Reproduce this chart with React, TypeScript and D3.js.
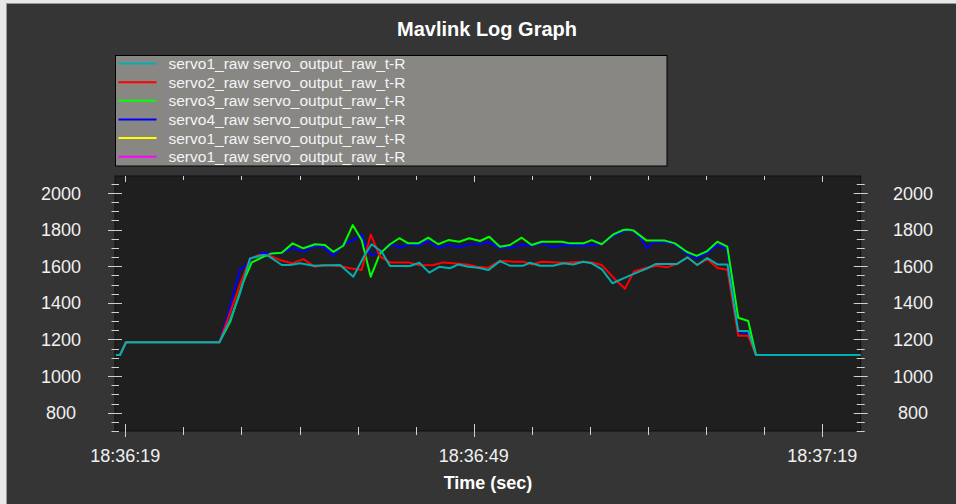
import React from 'react'
import * as d3 from 'd3'

// time in seconds after 18:36:00, value in raw servo units
const servo1Data: [number, number][] = [
  [18.2, 1115], [18.55, 1115], [19.07, 1185], [27.1, 1185], [28.02, 1306], [28.88, 1452],
  [29.74, 1643], [30.88, 1661], [31.32, 1657], [32.47, 1607], [33.18, 1607], [34.04, 1616],
  [35.19, 1603], [37.49, 1607], [38.63, 1543], [39.64, 1665], [40.21, 1720], [41.07, 1679],
  [41.79, 1601], [43.51, 1601], [44.31, 1619], [45.17, 1565], [46.03, 1597], [46.95, 1589],
  [47.67, 1610], [48.53, 1597], [49.39, 1592], [50.25, 1579], [51.25, 1628], [52.11, 1603],
  [53.26, 1603], [53.83, 1619], [54.69, 1603], [55.84, 1603], [56.7, 1616], [57.56, 1610],
  [58.42, 1625], [59.15, 1616], [60.03, 1583], [60.94, 1507], [61.87, 1534], [62.87, 1561],
  [63.88, 1587], [64.64, 1612], [66.46, 1612], [67.39, 1649], [68.23, 1607], [69.09, 1645],
  [69.97, 1610], [70.83, 1610], [71.76, 1246], [72.62, 1246], [73.29, 1115], [82.3, 1115],
]

const servo2Data: [number, number][] = [
  [18.2, 1115], [18.55, 1115], [19.07, 1185], [27.1, 1185], [27.93, 1330], [28.88, 1500],
  [29.74, 1640], [30.45, 1661], [31.32, 1661], [32.32, 1634], [33.33, 1616], [34.33, 1639],
  [35.33, 1597], [36.05, 1607], [37.49, 1601], [38.35, 1589], [39.35, 1579], [40.13, 1774],
  [40.93, 1652], [41.79, 1621], [43.36, 1621], [44.37, 1605], [45.51, 1607], [46.37, 1621],
  [47.24, 1616], [48.39, 1610], [49.25, 1597], [50.25, 1592], [51.25, 1630], [52.4, 1625],
  [53.26, 1625], [53.98, 1610], [54.84, 1625], [56.7, 1619], [58.42, 1625], [59.28, 1619],
  [60.01, 1607], [61.0, 1539], [62.01, 1477], [62.79, 1572], [63.88, 1592], [64.74, 1603],
  [65.6, 1594], [66.46, 1612], [67.39, 1649], [68.23, 1607], [69.09, 1639], [69.97, 1590],
  [70.83, 1581], [71.76, 1220], [72.62, 1220], [73.29, 1115], [82.3, 1115],
]

const servo3Data: [number, number][] = [
  [18.2, 1115], [18.55, 1115], [19.07, 1185], [27.1, 1185], [28.05, 1300], [29.16, 1515],
  [29.89, 1621], [30.88, 1652], [31.61, 1670], [32.47, 1674], [33.41, 1725], [34.33, 1698],
  [35.33, 1720], [36.19, 1716], [36.91, 1679], [37.77, 1712], [38.58, 1825], [39.35, 1743],
  [40.13, 1543], [40.93, 1670], [41.79, 1720], [42.59, 1753], [43.36, 1725], [44.22, 1725],
  [45.08, 1756], [45.94, 1720], [46.81, 1743], [47.75, 1734], [48.61, 1753], [49.53, 1738],
  [50.33, 1761], [51.25, 1707], [52.11, 1716], [53.12, 1756], [53.98, 1716], [54.84, 1734],
  [56.56, 1734], [57.28, 1725], [58.42, 1725], [59.15, 1743], [60.01, 1720], [61.0, 1774],
  [61.87, 1798], [62.16, 1801], [62.73, 1796], [63.88, 1740], [65.45, 1740], [66.31, 1725],
  [67.32, 1679], [68.18, 1657], [69.09, 1683], [69.96, 1734], [70.82, 1707], [71.76, 1319],
  [72.62, 1301], [73.29, 1115], [82.3, 1115],
]

const servo4Data: [number, number][] = [
  [18.2, 1115], [18.55, 1115], [19.07, 1185], [27.1, 1185], [27.87, 1343], [28.88, 1583],
  [29.46, 1607], [29.89, 1643], [30.75, 1672], [31.75, 1670], [32.47, 1674], [33.47, 1701],
  [34.33, 1679], [35.33, 1712], [36.05, 1707], [36.91, 1657], [37.77, 1720], [38.63, 1743],
  [39.35, 1774], [39.78, 1698], [40.21, 1661], [41.07, 1679], [41.93, 1720], [42.65, 1701],
  [43.51, 1720], [44.22, 1712], [45.08, 1738], [45.94, 1701], [46.81, 1716], [47.81, 1705],
  [48.67, 1720], [49.53, 1720], [50.25, 1731], [51.25, 1701], [52.11, 1701], [53.12, 1716],
  [53.98, 1712], [54.84, 1725], [55.84, 1703], [56.7, 1716], [58.42, 1712], [59.15, 1716],
  [60.01, 1720], [61.0, 1767], [61.87, 1790], [62.16, 1798], [62.73, 1792], [63.3, 1761],
  [63.88, 1698], [64.45, 1731], [65.45, 1734], [66.31, 1720], [67.32, 1670], [68.18, 1643],
  [69.04, 1670], [69.96, 1716], [70.82, 1694], [71.76, 1239], [72.62, 1239], [73.29, 1115],
  [82.3, 1115],
]

const seriesNames = [
  'servo1_raw servo_output_raw_t-R',
  'servo2_raw servo_output_raw_t-R',
  'servo3_raw servo_output_raw_t-R',
  'servo4_raw servo_output_raw_t-R',
  'servo1_raw servo_output_raw_t-R',
  'servo1_raw servo_output_raw_t-R',
]
const seriesColors = ['#00b0b0', '#ff0000', '#00ff00', '#0000ff', '#ffff00', '#ff00ff']
const seriesData: [number, number][][] = [servo1Data, servo2Data, servo3Data, servo4Data, [], []]

const xTickLabels = ['18:36:19', '18:36:49', '18:37:19']
const yMajorTicks = [800, 1000, 1200, 1400, 1600, 1800, 2000]

const font = '"Liberation Sans", Arial, sans-serif'

export default function App() {
  const W = 956
  const H = 504
  const plot = { left: 115, right: 860.7, top: 176, bottom: 431 }

  const parseTime = d3.timeParse('%H:%M:%S')
  const base = parseTime('18:36:00')!
  const toDate = (s: number) => new Date(base.getTime() + s * 1000)

  const x = d3.scaleTime()
    .domain([toDate(18.12), toDate(82.3)])
    .range([plot.left, plot.right])
  const y = d3.scaleLinear()
    .domain([700, 2093])
    .range([plot.bottom, plot.top])

  const majorDates = xTickLabels.map(l => parseTime(l)!)
  const minorDates = d3.range(majorDates[0].getTime(), majorDates[2].getTime() + 1, 5000).map(t => new Date(t))
  const yMinor = d3.range(700, 2051, 50)

  const line = d3.line<[number, number]>()
    .x(d => x(toDate(d[0])))
    .y(d => y(d[1]))

  const tickColor = '#d0d0d0'
  const drawOrder = [5, 4, 3, 2, 1, 0]

  return (
    <svg width={W} height={H} style={{ position: 'absolute', left: 0, top: 0, display: 'block' }} fontFamily={font}>
      <rect x={0} y={0} width={W} height={H} fill="#e8e8e8" />
      <rect x={6.5} y={3.5} width={W} height={H} fill="#353535" stroke="#9a9a9a" />

      <text x={487} y={36} textAnchor="middle" fill="#ffffff" fontSize={20} fontWeight="bold">
        Mavlink Log Graph
      </text>

      {/* legend */}
      <rect x={115.5} y={55.5} width={551.5} height={110.5} fill="#888784" stroke="#000" />
      {seriesNames.map((name, i) => {
        const cy = 63.5 + i * 18.65
        return (
          <g key={i}>
            <line x1={118.5} x2={156.5} y1={cy} y2={cy} stroke={seriesColors[i]} strokeWidth={2} />
            <text x={168.5} y={cy} dy="0.36em" fill="#f4f4f4" fontSize={15.5}>{name}</text>
          </g>
        )
      })}

      {/* plot area */}
      <defs>
        <clipPath id="plot-clip">
          <rect x={plot.left} y={plot.top} width={plot.right - plot.left} height={plot.bottom - plot.top} />
        </clipPath>
      </defs>
      <rect x={plot.left} y={plot.top} width={plot.right - plot.left} height={plot.bottom - plot.top}
        fill="#1f1f1f" stroke="#101010" />

      <g clipPath="url(#plot-clip)">
        {drawOrder.map(i => seriesData[i].length > 0 && (
          <path key={i} d={line(seriesData[i]) || ''} fill="none" stroke={seriesColors[i]}
            strokeWidth={2} strokeLinejoin="round" />
        ))}
      </g>

      {/* y ticks, left and right */}
      {yMinor.map(v => {
        const major = v % 200 === 0
        const yy = Math.round(y(v)) + 0.5
        return (
          <g key={v} stroke={tickColor}>
            <line x1={plot.left - (major ? 7 : 3.5)} x2={plot.left + (major ? 7 : 4)} y1={yy} y2={yy} />
            <line x1={plot.right - (major ? 7 : 4)} x2={plot.right + (major ? 7 : 4)} y1={yy} y2={yy} />
          </g>
        )
      })}
      {yMajorTicks.map(v => (
        <g key={v} fill="#f0f0f0" fontSize={18} textAnchor="middle">
          <text x={61} y={y(v)} dy="0.36em">{v}</text>
          <text x={913} y={y(v)} dy="0.36em">{v}</text>
        </g>
      ))}

      {/* x ticks, bottom and top */}
      {minorDates.map((d, i) => {
        const major = i % 6 === 0
        const xx = Math.round(x(d)) + 0.5
        return (
          <g key={i} stroke={tickColor}>
            <line x1={xx} x2={xx} y1={plot.bottom - (major ? 7 : 4)} y2={plot.bottom + (major ? 6 : 4)} />
            <line x1={xx} x2={xx} y1={plot.top} y2={plot.top + (major ? 6 : 4)} />
          </g>
        )
      })}
      {majorDates.map((d, i) => (
        <text key={i} x={x(d)} y={462} textAnchor="middle" fill="#f0f0f0" fontSize={18}>
          {xTickLabels[i]}
        </text>
      ))}

      <text x={488} y={489} textAnchor="middle" fill="#ffffff" fontSize={18} fontWeight="bold">
        Time (sec)
      </text>
    </svg>
  )
}
